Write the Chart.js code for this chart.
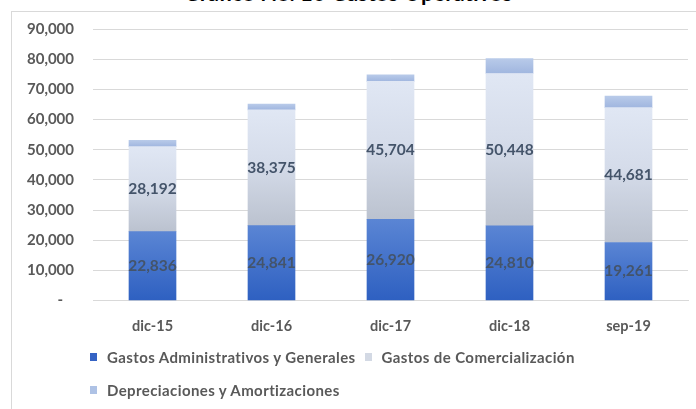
<!DOCTYPE html>
<html>
<head>
<meta charset="utf-8">
<script src="https://cdn.jsdelivr.net/npm/chart.js@4.4.1/dist/chart.umd.min.js"></script>
<style>
  body { margin: 0; background: #fff; width: 696px; height: 409px; overflow: hidden; position: relative; font-family: Lato, sans-serif; }
  #frame { position: absolute; left: 11px; top: 11px; width: 700px; height: 420px; border: 1px solid #D9D9D9; }
  #title { position: absolute; left: 0; width: 696px; top: -17px; text-align: center; font: bold 22px Lato, sans-serif; line-height: 20px; color: #000; }
  #wrap { position: absolute; left: 0; top: 0; width: 696px; height: 350px; }
  #legend { position: absolute; left: 90px; top: 346px; font: bold 15px Lato, sans-serif; letter-spacing: 0.4px; color: #595959; }
  .row { height: 33px; display: flex; align-items: flex-start; white-space: nowrap; }
  .item { display: flex; align-items: center; margin-right: 9px; line-height: 22px; }
  .sw { width: 7px; height: 8px; margin-right: 10px; }
</style>
</head>
<body>
<div id="frame"></div>
<div id="title">Gráfico No. 16 Gastos Operativos</div>
<div id="wrap"><canvas id="chart"></canvas></div>
<div id="legend"></div>
<script>
// Categories and series
const categories = ['dic-15', 'dic-16', 'dic-17', 'dic-18', 'sep-19'];
const seriesNames = ['Gastos Administrativos y Generales', 'Gastos de Comercialización', 'Depreciaciones y Amortizaciones'];
const administrativos = [22836, 24841, 26920, 24810, 19261];
const comercializacion = [28192, 38375, 45704, 50448, 44681];
const depreciaciones = [2100, 1900, 2200, 4900, 3800];
const yTicks = [0, 10000, 20000, 30000, 40000, 50000, 60000, 70000, 80000, 90000];

// gradient stops for each series, top to bottom
const gradColors = [
  [[0, '#5A85D4'], [1, '#2E60C1']],
  [[0, '#E0E7F4'], [0.45, '#D5DCEA'], [1, '#BBC2CF']],
  [[0, '#B8CAE9'], [1, '#A0B6DF']]
];
const legendColors = ['#3563C4', '#D3D9E4', '#AEC2E5'];

// Build a vertical gradient for one stacked segment
function segGradient(ctx) {
  const chart = ctx.chart;
  const stops = gradColors[ctx.datasetIndex];
  if (!chart.chartArea || ctx.dataIndex === undefined) return stops[stops.length - 1][1];
  const y = chart.scales.y;
  let base = 0;
  for (let d = 0; d < ctx.datasetIndex; d++) {
    base += chart.data.datasets[d].data[ctx.dataIndex];
  }
  const top = base + chart.data.datasets[ctx.datasetIndex].data[ctx.dataIndex];
  const g = chart.ctx.createLinearGradient(0, y.getPixelForValue(top), 0, y.getPixelForValue(base));
  stops.forEach(s => g.addColorStop(s[0], s[1]));
  return g;
}

// Value labels centred in the first two segments
const segmentLabels = {
  id: 'segmentLabels',
  afterDatasetsDraw(chart) {
    const c = chart.ctx;
    c.save();
    c.font = 'bold 15.5px Lato';
    c.fillStyle = '#44546A';
    c.textAlign = 'center';
    c.textBaseline = 'middle';
    [0, 1].forEach(di => {
      const meta = chart.getDatasetMeta(di);
      meta.data.forEach((bar, i) => {
        const v = chart.data.datasets[di].data[i];
        c.fillText(v.toLocaleString('en-US'), bar.x, (bar.y + bar.base) / 2);
      });
    });
    c.restore();
  }
};

const seriesData = [administrativos, comercializacion, depreciaciones];

new Chart(document.getElementById('chart'), {
  type: 'bar',
  data: {
    labels: categories,
    datasets: seriesData.map((data, i) => ({
      label: seriesNames[i],
      data: data,
      backgroundColor: segGradient,
      borderWidth: 0,
      barThickness: 47
    }))
  },
  options: {
    responsive: true,
    maintainAspectRatio: false,
    animation: false,
    layout: { padding: { top: 29, right: 8, bottom: 6, left: 0 } },
    scales: {
      x: {
        stacked: true,
        grid: { display: false },
        border: { color: '#D9D9D9' },
        ticks: { color: '#595959', font: { family: 'Lato', size: 14.5, weight: 'bold' }, padding: 9 }
      },
      y: {
        stacked: true,
        min: 0,
        max: 90000,
        afterBuildTicks: scale => { scale.ticks = yTicks.map(v => ({ value: v })); },
        afterFit: scale => { scale.width = 93; },
        grid: { color: '#D9D9D9', drawTicks: false },
        border: { display: false },
        ticks: {
          color: '#595959',
          padding: 19,
          font: { family: 'Lato', size: 15, weight: 'bold' },
          callback: v => v === 0 ? '-   ' : v.toLocaleString('en-US')
        }
      }
    },
    plugins: {
      legend: { display: false },
      tooltip: { enabled: false }
    }
  },
  plugins: [segmentLabels]
});

// HTML legend
const legend = document.getElementById('legend');
const rows = [[0, 1], [2]];
rows.forEach(r => {
  const row = document.createElement('div');
  row.className = 'row';
  r.forEach(i => {
    const item = document.createElement('div');
    item.className = 'item';
    const sw = document.createElement('span');
    sw.className = 'sw';
    sw.style.background = legendColors[i];
    const txt = document.createElement('span');
    txt.textContent = seriesNames[i];
    item.appendChild(sw);
    item.appendChild(txt);
    row.appendChild(item);
  });
  legend.appendChild(row);
});
</script>
</body>
</html>
